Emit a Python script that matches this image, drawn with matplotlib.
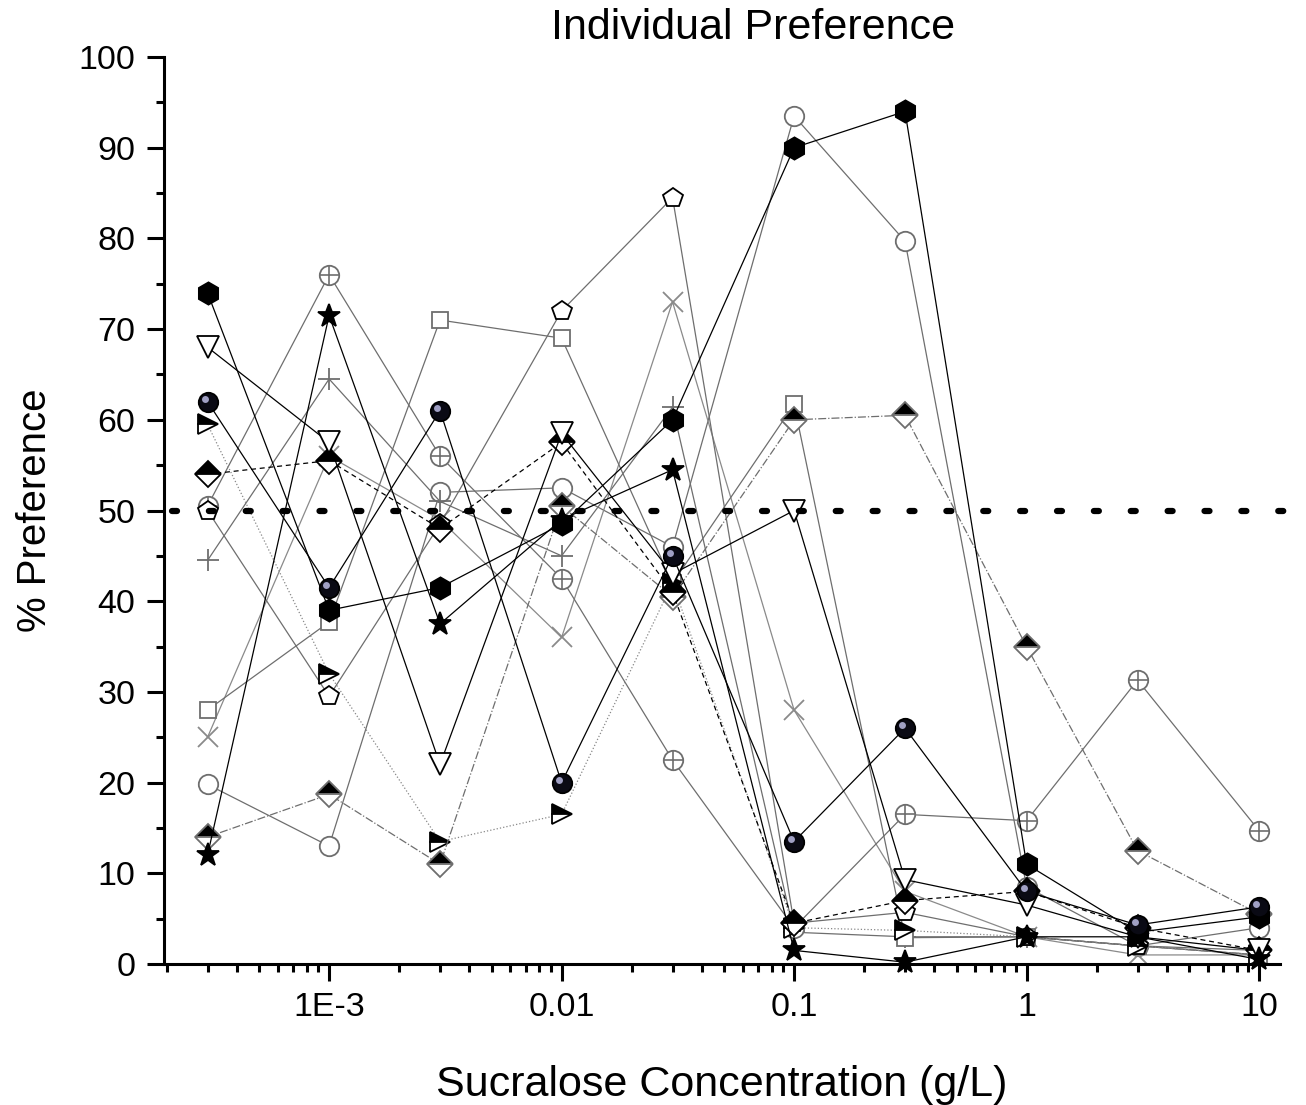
import matplotlib
matplotlib.use("Agg")
import matplotlib.pyplot as plt
import matplotlib.transforms as mtransforms
from matplotlib.ticker import LogLocator, NullFormatter
import numpy as np

plt.rcParams['font.family'] = ['Liberation Sans', 'DejaVu Sans']

# sucralose concentrations (g/L)
conc = [3e-4, 1e-3, 3e-3, 1e-2, 3e-2, 0.1, 0.3, 1, 3, 10]

# % preference of each animal
hexagon = [74, 39, 41.5, 48.5, 60, 90, 94, 11, 3.5, 5.2]
open_circle = [19.8, 13, 52, 52.5, 46, 93.5, 79.7, 8.5, 2, 4]
tri_down = [68, 57.5, 22, 58.5, 43, 50, 9.3, 6.5, 3, 1.5]
ball = [62, 41.5, 61, 20, 45, 13.5, 26, 8, 4.3, 6.3]
half_right = [59.5, 32, 13.5, 16.5, 42, 4, 3.7, 3, 2, 1]
diamond_dash = [54, 55.5, 48, 57.5, 41, 4.5, 7, 8, 4, 1.5]
diamond_dashdot = [14, 18.7, 11, 50.5, 40.5, 60, 60.5, 35, 12.5, 5.5]
pentagon = [50, 29.5, 48.5, 72, 84.5, 4.5, 5.7, 3, 2, 1.5]
cross_circle = [50.5, 76, 56, 42.5, 22.5, 4, 16.5, 15.8, 31.3, 14.7]
plus = [44.5, 64.5, 51, 45, 61.4, 3.5, 3, 3, 2, 1]
xmark = [25, 56, 49, 36, 73, 28, 8, 3, 1, 1]
square = [28, 37.7, 71, 69, 42, 61.7, 2.9, 3, 2, 1]
star = [12, 71.5, 37.5, 49, 54.5, 1.5, 0.2, 3, 3, 0.5]

GRAY = "#6e6e6e"

fig = plt.figure(figsize=(13.06, 11.05), dpi=100)
ax = fig.add_axes([0.1256, 0.1276, 0.8545, 0.8208])

def draw(vals, marker, ms, color, ls="-", lcolor=None, **kw):
    ax.plot(conc, vals, color=lcolor or color, linestyle=ls, linewidth=0.9,
            marker=marker, markersize=ms, markeredgecolor=color,
            markeredgewidth=1.3, clip_on=False, **kw)

draw(open_circle, "o", 14, GRAY, markerfacecolor="white")
draw(plus, "+", 16, GRAY)
draw(xmark, "x", 14, "#8a8a8a")
draw(square, "s", 12, GRAY, markerfacecolor="white")
draw(cross_circle, "o", 14, GRAY, markerfacecolor="white")
ax.plot(conc, cross_circle, linestyle="none", marker="+", markersize=14,
        markeredgecolor=GRAY, markeredgewidth=1.2, clip_on=False)
draw(pentagon, "p", 15, "black", lcolor=GRAY, markerfacecolor="white")
draw(half_right, ">", 15, "black", ls=":", lcolor="#888888",
     fillstyle="top", markerfacecolor="black", markerfacecoloralt="white")
draw(diamond_dashdot, "D", 13, GRAY, ls="-.", lcolor=GRAY,
     fillstyle="top", markerfacecolor="black", markerfacecoloralt="white")
draw(diamond_dash, "D", 13, "black", ls=(0, (4, 3)),
     fillstyle="top", markerfacecolor="black", markerfacecoloralt="white")
draw(tri_down, "v", 16, "black", markerfacecolor="white")
draw(star, "*", 17, "black", markerfacecolor="black")
draw(hexagon, "h", 16, "black", markerfacecolor="black")
draw(ball, "o", 14, "black", markerfacecolor="#0a0a14")
hl = mtransforms.offset_copy(ax.transData, fig=fig, x=-3, y=3, units="dots")
ax.plot(conc, ball, linestyle="none", marker="o", markersize=5,
        markerfacecolor="#a0a0c4", markeredgewidth=0, transform=hl, clip_on=False)

# 50 % indifference line
ax.axhline(50, xmin=0.007, xmax=1.013, color="black", linewidth=4.5,
           linestyle=(0, (0.8, 5.1)), dash_capstyle="round", clip_on=False)

ax.set_xscale("log")
ax.set_xlim(10 ** -3.71, 10 ** 1.09)
ax.set_ylim(0, 100)
ax.set_xticks([1e-3, 1e-2, 1e-1, 1, 10])
ax.set_xticklabels(["1E-3", "0.01", "0.1", "1", "10"])
ax.xaxis.set_minor_locator(LogLocator(base=10, subs=np.arange(2, 10)))
ax.xaxis.set_minor_formatter(NullFormatter())
ax.set_yticks(np.arange(0, 101, 10))
ax.set_yticks(np.arange(5, 100, 10), minor=True)

for side in ["top", "right"]:
    ax.spines[side].set_visible(False)
for side in ["left", "bottom"]:
    ax.spines[side].set_linewidth(2.2)

ax.tick_params(which="major", direction="out", length=12.5, width=2.2,
               labelsize=24.5, pad=8)
ax.tick_params(which="minor", direction="out", length=6, width=2.2)

ax.set_xlabel("Sucralose Concentration (g/L)", fontsize=31, labelpad=30)
ax.set_ylabel("% Preference", fontsize=29, labelpad=18)
fig.text(0.5766, 0.975, "Individual Preference", fontsize=31,
         ha="center", va="center")

fig.savefig("out.png", dpi=100)
